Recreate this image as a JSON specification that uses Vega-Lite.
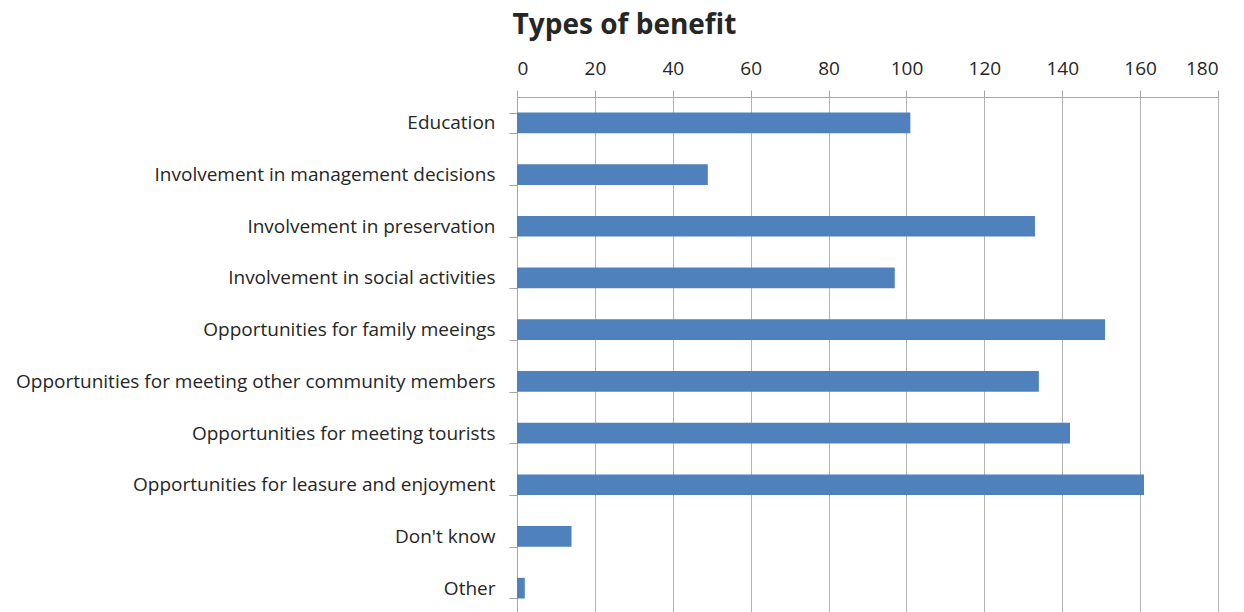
{
  "$schema": "https://vega.github.io/schema/vega-lite/v6.json",
  "autosize": {"type": "none"},
  "padding": {"left": 517, "top": 97, "right": 25, "bottom": 0},
  "width": 701,
  "height": 517,
  "background": "white",
  "title": {
    "text": "Types of benefit",
    "font": "Open Sans",
    "fontSize": 28,
    "fontWeight": "bold",
    "color": "#262626",
    "anchor": "middle",
    "dx": -243,
    "offset": 19
  },
  "data": {
    "values": [
      {"category": "Education", "value": 101},
      {"category": "Involvement in management decisions", "value": 49},
      {"category": "Involvement in preservation", "value": 133},
      {"category": "Involvement in social activities", "value": 97},
      {"category": "Opportunities for family meeings", "value": 151},
      {"category": "Opportunities for meeting other community members", "value": 134},
      {"category": "Opportunities for meeting tourists", "value": 142},
      {"category": "Opportunities for leasure and enjoyment", "value": 161},
      {"category": "Don't know", "value": 14},
      {"category": "Other", "value": 2}
    ]
  },
  "mark": {"type": "bar", "color": "#4F81BD"},
  "encoding": {
    "y": {
      "field": "category",
      "type": "nominal",
      "sort": null,
      "scale": {"paddingInner": 0.6, "paddingOuter": 0.3},
      "axis": {
        "title": null,
        "orient": "left",
        "tickBand": "extent",
        "tickSize": 8,
        "tickColor": "#a6a6a6",
        "domainColor": "#a6a6a6",
        "labelPadding": 14,
        "labelFont": "Open Sans",
        "labelFontSize": 19,
        "labelColor": "#262626",
        "labelLimit": 600,
        "grid": false
      }
    },
    "x": {
      "field": "value",
      "type": "quantitative",
      "scale": {"domain": [0, 180], "nice": false},
      "axis": {
        "title": null,
        "orient": "top",
        "values": [0, 20, 40, 60, 80, 100, 120, 140, 160, 180],
        "tickSize": 7,
        "tickColor": "#a6a6a6",
        "domainColor": "#a6a6a6",
        "gridColor": "#b3b3b3",
        "grid": true,
        "labelPadding": 12,
        "labelFont": "Open Sans",
        "labelFontSize": 19,
        "labelColor": "#262626"
      }
    }
  },
  "config": {"view": {"stroke": null}}
}
